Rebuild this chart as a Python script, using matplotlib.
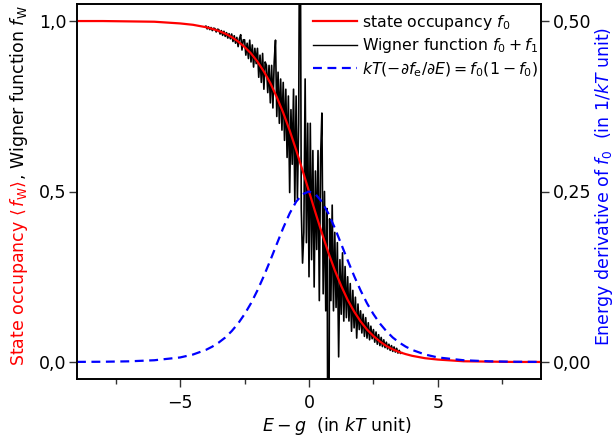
import numpy as np
import matplotlib
matplotlib.use('Agg')
import matplotlib.pyplot as plt
from matplotlib.lines import Line2D
from matplotlib.ticker import FuncFormatter

plt.rcParams['font.family'] = 'DejaVu Sans'
plt.rcParams['mathtext.fontset'] = 'dejavusans'

# smooth curves: energy (in kT), occupancy f0, derivative f0(1-f0)
energy = [-9, -8, -7, -6, -5, -4.5, -4, -3.75, -3.5, -3.25, -3, -2.75, -2.5, -2.25,
          -2, -1.75, -1.5, -1.25, -1, -0.75, -0.5, -0.25, 0, 0.25, 0.5, 0.75, 1,
          1.25, 1.5, 1.75, 2, 2.25, 2.5, 2.75, 3, 3.25, 3.5, 3.75, 4, 4.5, 5, 6, 7, 8, 9]
occupancy = [1.000, 1.000, 0.999, 0.998, 0.993, 0.989, 0.982, 0.977, 0.971, 0.963,
             0.953, 0.940, 0.924, 0.905, 0.881, 0.852, 0.818, 0.777, 0.731, 0.679,
             0.622, 0.562, 0.500, 0.438, 0.378, 0.321, 0.269, 0.223, 0.182, 0.148,
             0.119, 0.095, 0.076, 0.060, 0.047, 0.037, 0.029, 0.023, 0.018, 0.011,
             0.007, 0.002, 0.001, 0.000, 0.000]
derivative = [0.0001, 0.0003, 0.0009, 0.0025, 0.0066, 0.0109, 0.0177, 0.0225, 0.0285,
              0.0358, 0.0452, 0.0564, 0.0701, 0.0861, 0.1050, 0.1262, 0.1491, 0.1729,
              0.1966, 0.2179, 0.2350, 0.2461, 0.2500, 0.2461, 0.2350, 0.2179, 0.1966,
              0.1729, 0.1491, 0.1262, 0.1050, 0.0861, 0.0701, 0.0564, 0.0452, 0.0358,
              0.0285, 0.0225, 0.0177, 0.0109, 0.0066, 0.0025, 0.0009, 0.0003, 0.0001]

# noisy Wigner function, sampled every 0.05 kT from -4 kT
wigner_start = -4.0
wigner_step = 0.05
wigner = [
    0.985, 0.977, 0.983, 0.975, 0.981, 0.972, 0.979, 0.978, 0.968, 0.976,
    0.975, 0.962, 0.972, 0.958, 0.970, 0.955, 0.966, 0.950, 0.963, 0.948,
    0.962, 0.940, 0.957, 0.935, 0.952, 0.925, 0.948, 0.960, 0.915, 0.945,
    0.945, 0.900, 0.935, 0.890, 0.944, 0.880, 0.930, 0.865, 0.920, 0.875,
    0.920, 0.835, 0.900, 0.820, 0.905, 0.800, 0.880, 0.870, 0.790, 0.870,
    0.760, 0.870, 0.745, 0.880, 0.944, 0.720, 0.850, 0.700, 0.830, 0.680,
    0.820, 0.650, 0.800, 0.600, 0.780, 0.497, 0.740, 0.580, 0.800, 0.470,
    0.780, 0.480, 0.700, 1.600, 0.450, 0.290, 0.380, 0.830, 0.350, 0.700,
    0.250, 0.700, 0.300, 0.620, 0.220, 0.560, 0.330, 0.620, 0.180, 0.600,
    0.730, 0.200, 0.500, 0.150, 0.450, -0.800, 0.420, 0.180, 0.460, 0.150,
    0.380, 0.160, 0.350, 0.015, 0.300, 0.140, 0.320, 0.120, 0.280, 0.130,
    0.250, 0.120, 0.230, 0.090, 0.210, 0.100, 0.190, 0.070, 0.170, 0.095,
    0.150, 0.085, 0.140, 0.075, 0.130, 0.070, 0.115, 0.065, 0.105, 0.068,
    0.095, 0.058, 0.088, 0.052, 0.080, 0.048, 0.072, 0.045, 0.065, 0.042,
    0.058, 0.038, 0.052, 0.034, 0.048, 0.031, 0.044, 0.029, 0.040, 0.026,
    0.034, 0.025, 0.027,
]
wigner_x = wigner_start + wigner_step * np.arange(len(wigner))

W, H = 615, 441
fig = plt.figure(figsize=(W / 100, H / 100), dpi=100)
ax = fig.add_axes([77 / W, 62 / H, 464 / W, 375 / H])
ax2 = ax.twinx()

ax.plot(wigner_x, wigner, color='black', lw=1.2, zorder=2)
ax.plot(energy, occupancy, color='red', lw=1.6, zorder=3)
ax2.plot(energy, derivative, color='blue', lw=1.6, dashes=(4, 2.5))

ax.set_xlim(-9, 9)
ax.set_ylim(-0.05, 1.05)
ax2.set_ylim(-0.025, 0.525)

ax.set_xticks([-5, 0, 5])
ax.set_xticks([-7.5, -2.5, 2.5, 7.5], minor=True)
ax.set_yticks([0, 0.5, 1.0])
ax2.set_yticks([0, 0.25, 0.5])

ax.xaxis.set_major_formatter(FuncFormatter(lambda v, p: f'{v:g}'.replace('-', '\u2212')))
ax.yaxis.set_major_formatter(FuncFormatter(lambda v, p: f'{v:.1f}'.replace('.', ',')))
ax2.yaxis.set_major_formatter(FuncFormatter(lambda v, p: f'{v:.2f}'.replace('.', ',')))

ax.tick_params(axis='x', which='major', direction='out', length=5.5, width=1, pad=5,
               labelsize=12.5, color='#333333')
ax.tick_params(axis='x', which='minor', direction='out', length=3.5, width=1, color='#333333')
ax.tick_params(axis='y', direction='out', length=5.5, width=1, pad=2, labelsize=12.5,
               color='#333333')
ax2.tick_params(axis='y', direction='out', length=5.5, width=1, pad=3, labelsize=12.5,
                color='#333333')
for a in (ax, ax2):
    for s in a.spines.values():
        s.set_linewidth(1.2)

ax.set_xlabel('$E - g$  (in $kT$ unit)', fontsize=12.5)
ax.xaxis.set_label_coords(0.56, -0.095)

# right label
fig.text(609 / W, (H - 186) / H, 'Energy derivative of $f_0$  (in 1/$kT$ unit)',
         color='blue', fontsize=12.5, rotation=90, rotation_mode='anchor',
         ha='center', va='baseline')

# left label in two colours
t1 = fig.text(24 / W, 0, 'State occupancy $\\langle\\,f_\\mathrm{W}\\rangle$', color='red',
              fontsize=12.5, rotation=90, rotation_mode='anchor', ha='left', va='baseline')
t2 = fig.text(24 / W, 0, ', Wigner function $f_\\mathrm{W}$', color='black',
              fontsize=12.5, rotation=90, rotation_mode='anchor', ha='left', va='baseline')
fig.canvas.draw()
r = fig.canvas.get_renderer()
h1 = t1.get_window_extent(r).height
h2 = t2.get_window_extent(r).height
y0 = (H - 186) - (h1 + h2) / 2
t1.set_position((24 / W, y0 / H))
t2.set_position((24 / W, (y0 + h1) / H))

handles = [
    Line2D([], [], color='red', lw=1.6),
    Line2D([], [], color='black', lw=1.0),
    Line2D([], [], color='blue', lw=1.6, dashes=(4, 2.5)),
]
labels = [
    'state occupancy $f_0$',
    'Wigner function $f_0 + f_1$',
    '$kT(-\\partial f_\\mathrm{e}/\\partial E) = f_0(1 - f_0)$',
]
ax2.legend(handles, labels, loc='upper right', bbox_to_anchor=(1.0, 0.985), frameon=False,
           fontsize=11.3, handlelength=2.75, handletextpad=0.32, borderaxespad=0.0,
           borderpad=0.2, labelspacing=0.3)

fig.savefig('out.png', dpi=100)
